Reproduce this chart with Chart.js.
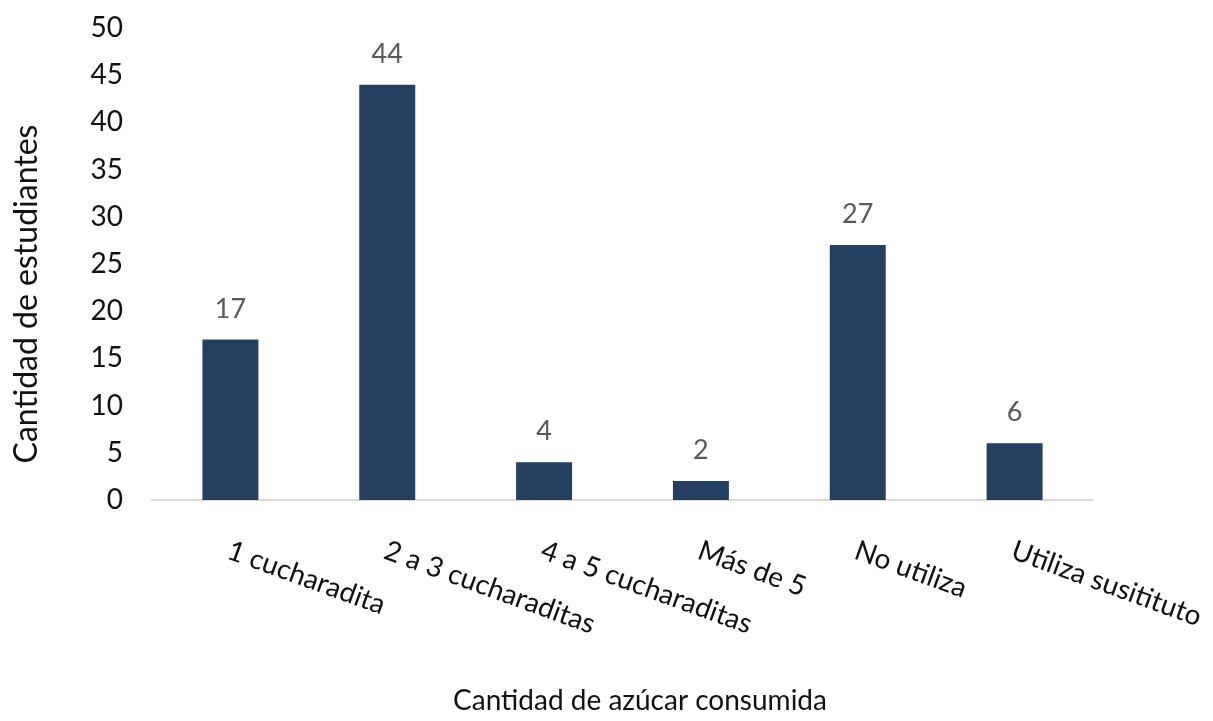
<!DOCTYPE html>
<html>
<head>
<meta charset="utf-8">
<script src="https://cdn.jsdelivr.net/npm/chart.js@4/dist/chart.umd.min.js"></script>
<style>
  html, body { margin: 0; padding: 0; background: #ffffff; }
  #wrap { width: 1213px; height: 721px; position: relative; }
</style>
</head>
<body>
<div id="wrap"><canvas id="c" width="1213" height="721"></canvas></div>
<script>
// Sugar consumption survey: students per category
const categories = ['1 cucharadita', '2 a 3 cucharaditas', '4 a 5 cucharaditas', 'Más de 5', 'No utiliza', 'Utiliza susitituto'];
const students = [17, 44, 4, 2, 27, 6];
const yTicks = [0, 5, 10, 15, 20, 25, 30, 35, 40, 45, 50];
const xTitle = 'Cantidad de azúcar consumida';
const yTitle = 'Cantidad de estudiantes';

const FONT = 'Lato, "Open Sans", sans-serif';

// Value labels above each bar, slanted category labels and both axis titles
const decorations = {
  id: 'decorations',
  afterDatasetsDraw(chart) {
    const ctx = chart.ctx;
    const meta = chart.getDatasetMeta(0);
    const xs = chart.scales.x;
    const area = chart.chartArea;
    ctx.save();

    // value labels
    ctx.font = '27px ' + FONT;
    ctx.fillStyle = '#595959';
    ctx.textAlign = 'center';
    ctx.textBaseline = 'alphabetic';
    meta.data.forEach((bar, i) => {
      ctx.fillText(String(students[i]), bar.x, bar.y - 22);
    });

    // category labels, rotated clockwise
    ctx.font = '28px ' + FONT;
    ctx.fillStyle = '#111111';
    ctx.textAlign = 'left';
    categories.forEach((label, i) => {
      const x = xs.getPixelForValue(i);
      ctx.save();
      ctx.translate(x - 5, area.bottom + 58);
      ctx.rotate(20 * Math.PI / 180);
      ctx.fillText(label, 0, 0);
      ctx.restore();
    });

    // axis titles
    ctx.textAlign = 'center';
    ctx.textBaseline = 'middle';
    ctx.fillText(xTitle, 640, 701);
    ctx.save();
    ctx.font = '32px ' + FONT;
    ctx.translate(27, 294);
    ctx.rotate(-Math.PI / 2);
    ctx.fillText(yTitle, 0, 0);
    ctx.restore();

    ctx.restore();
  }
};

new Chart(document.getElementById('c'), {
  type: 'bar',
  data: {
    labels: categories,
    datasets: [{
      data: students,
      backgroundColor: '#243F60',
      borderWidth: 0,
      barPercentage: 0.357,
      categoryPercentage: 1.0
    }]
  },
  options: {
    responsive: false,
    animation: false,
    devicePixelRatio: 1,
    layout: { padding: { top: 28, right: 120, bottom: 0, left: 0 } },
    plugins: {
      legend: { display: false },
      tooltip: { enabled: false }
    },
    scales: {
      x: {
        grid: { display: false },
        border: { display: true, color: '#D9D9D9', width: 2 },
        ticks: { display: false },
        afterFit(scale) { scale.height = 221; }
      },
      y: {
        min: 0,
        max: 50,
        afterBuildTicks(scale) { scale.ticks = yTicks.map(v => ({ value: v })); },
        grid: { display: false, drawTicks: false },
        border: { display: false },
        ticks: {
          padding: 29,
          color: '#111111',
          font: { family: FONT, size: 28 }
        },
        afterFit(scale) {
          scale.width = 152;
          scale.paddingTop = 0;
          scale.paddingBottom = 0;
        }
      }
    }
  },
  plugins: [decorations]
});
</script>
</body>
</html>
